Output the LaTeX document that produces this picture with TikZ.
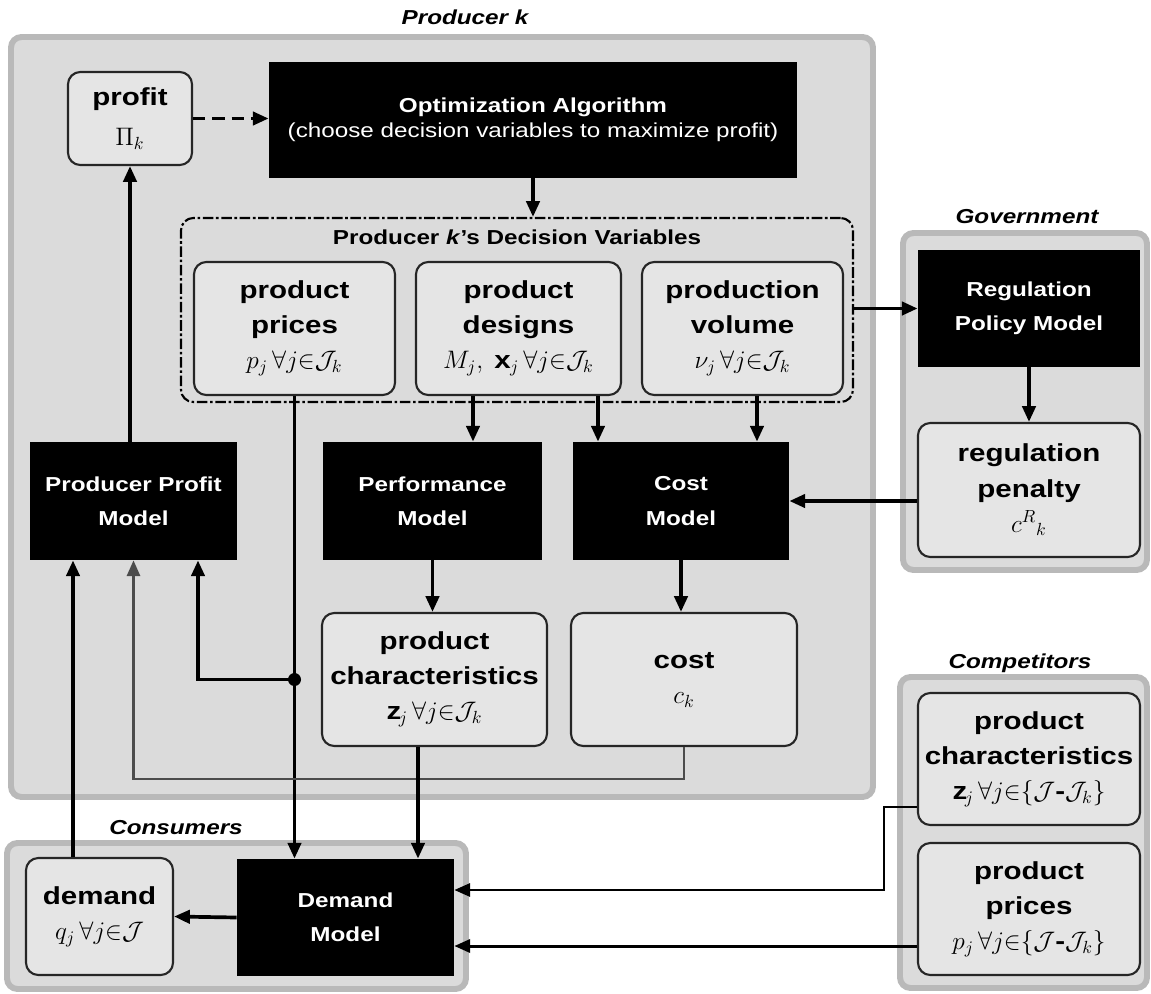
\documentclass[tikz,border=0pt]{standalone}
\usepackage{amsmath, amssymb}
\usepackage{fontspec}
\setmainfont{Liberation Sans}[FakeStretch=1.2]
\usetikzlibrary{arrows.meta, positioning, calc}

\begin{document}
\begin{tikzpicture}[box/.style={draw=black!85, line width=1.2pt, rounded corners=7pt, fill=gray!20, align=center, inner sep=1pt, font=\fontsize{14}{20}\selectfont\bfseries},
  model/.style={fill=black, text=white, align=center, inner sep=1pt, font=\fontsize{11.5}{19.5}\selectfont\bfseries},
  group/.style={draw=gray!55, line width=3.4pt, fill=gray!28, rounded corners=6pt, inner sep=0pt},
  head/.style={font=\fontsize{11.5}{14}\selectfont\bfseries\itshape}, ar/.style={-{Triangle[length=9pt, width=7.5pt]}, line width=2.1pt}]
\useasboundingbox (0,0) rectangle (23.02,-19.88);
% containers
\node[group, minimum width=17.24cm, minimum height=15.20cm] (prod) at (8.84,-8.34) {};
\node[group, minimum width=4.88cm, minimum height=6.74cm] (gov) at (20.50,-8.03) {};
\node[group, minimum width=4.94cm, minimum height=6.22cm] (comp) at (20.47,-16.65) {};
\node[group, minimum width=9.18cm, minimum height=2.92cm] (cons) at (4.73,-18.32) {};
\node[head] (tprod) at (9.30,-0.34) {Producer k};
\node[head] (tgov) at (20.54,-4.34) {Government};
\node[head] (tcomp) at (20.40,-13.26) {Competitors};
\node[head] (tcons) at (3.52,-16.56) {Consumers};
% producer k
\node[box, minimum width=2.48cm, minimum height=1.86cm] (profit) at (2.60,-2.37) {profit\\[3pt]$\Pi_{k}$};
\node[model, minimum width=10.56cm, minimum height=2.32cm, font=\fontsize{11.5}{14.5}\selectfont] (opt) at (10.66,-2.40) {\textbf{Optimization Algorithm}\\(choose decision variables to maximize profit)};
\node[draw, line width=1.2pt, rounded corners=7pt, dash pattern=on 6pt off 1.5pt on 1.5pt off 1.5pt, minimum width=13.44cm, minimum height=3.68cm] (dv) at (10.34,-6.20) {};
\node[font=\fontsize{11.5}{14}\selectfont\bfseries] (dvt) at (10.34,-4.74) {Producer \textit{k}'s Decision Variables};
\node[box, minimum width=4.02cm, minimum height=2.66cm] (prices) at (5.89,-6.57) {product\\prices\\$p_j\,\forall j{\in}\mathcal{J}_k$};
\node[box, minimum width=4.10cm, minimum height=2.66cm] (designs) at (10.37,-6.57) {product\\designs\\$M_j,\;\mathbf{x}_{\mkern2mu j}\,\forall j{\in}\mathcal{J}_k$};
\node[box, minimum width=4.02cm, minimum height=2.66cm] (volume) at (14.85,-6.57) {production\\volume\\$\nu_j\,\forall j{\in}\mathcal{J}_k$};
\node[model, minimum width=4.14cm, minimum height=2.36cm] (ppm) at (2.67,-10.02) {Producer Profit\\Model};
\node[model, minimum width=4.38cm, minimum height=2.36cm] (perf) at (8.65,-10.02) {Performance\\Model};
\node[model, minimum width=4.32cm, minimum height=2.36cm] (costm) at (13.62,-10.02) {Cost\\Model};
\node[box, minimum width=4.50cm, minimum height=2.66cm] (pchar) at (8.69,-13.59) {product\\characteristics\\$\mathbf{z}_j\,\forall j{\in}\mathcal{J}_k$};
\node[box, minimum width=4.52cm, minimum height=2.66cm] (cost) at (13.68,-13.59) {cost\\$c_k$};
% government
\node[model, minimum width=4.44cm, minimum height=2.34cm] (regpol) at (20.58,-6.17) {Regulation\\Policy Model};
\node[box, minimum width=4.44cm, minimum height=2.68cm] (pen) at (20.58,-9.80) {regulation\\penalty\\$c^{R}{}_{k}$};
% competitors
\node[box, minimum width=4.44cm, minimum height=2.64cm] (cchar) at (20.58,-15.18) {product\\characteristics\\$\mathbf{z}_j\,\forall j{\in}\{\mathcal{J}\mbox{-}\mathcal{J}_k\}$};
\node[box, minimum width=4.44cm, minimum height=2.64cm] (cprices) at (20.58,-18.18) {product\\prices\\$p_j\,\forall j{\in}\{\mathcal{J}\mbox{-}\mathcal{J}_k\}$};
% consumers
\node[box, minimum width=2.94cm, minimum height=2.34cm] (demand) at (1.99,-18.33) {demand\\$q_j\,\forall j{\in}\mathcal{J}$};
\node[model, minimum width=4.34cm, minimum height=2.34cm] (dmodel) at (6.91,-18.35) {Demand\\Model};
% connectors
\draw[ar, dash pattern=on 7pt off 4pt] (profit.east) -- (profit.east -| opt.west);
\draw[ar] (opt.south) -- (opt.south |- dv.north);
\draw[ar] (dv.east |- regpol.west) -- (regpol.west);
\draw[ar] (regpol.south) -- (pen.north);
\draw[ar] (pen.west |- costm.east) -- (costm.east);
\draw[ar] ([xshift=-0.91cm]designs.south) -- ([xshift=-0.91cm]designs.south |- perf.north);
\draw[ar] ([xshift=1.59cm]designs.south) -- ([xshift=1.59cm]designs.south |- costm.north);
\draw[ar] ([xshift=0.29cm]volume.south) -- ([xshift=0.29cm]volume.south |- costm.north);
\draw[ar] (perf.south) -- (perf.south |- pchar.north);
\draw[ar] (costm.south) -- (costm.south |- cost.north);
\draw[ar] (ppm.north -| profit.south) -- (profit.south);
\coordinate (jn) at (prices.south |- pchar.west);
\draw[ar] (prices.south) -- (prices.south |- dmodel.north);
\fill (jn) circle (0.13);
\draw[ar] (jn) -| ([xshift=1.29cm]ppm.south);
\draw[ar, line width=1.4pt, draw=black!70] (cost.south) -- ++(0,-0.64) -| (ppm.south);
\draw[ar] ([xshift=-0.53cm]demand.north) -- ([xshift=-0.53cm]demand.north |- ppm.south);
\draw[ar] ([xshift=-0.33cm]pchar.south) -- ([xshift=-0.33cm]pchar.south |- dmodel.north);
\draw[ar] (dmodel.west) -- (demand.east);
\draw[ar, line width=1.5pt] ([yshift=-0.96cm]cchar.west) -- ++(-0.66,0) |- ([yshift=0.55cm]dmodel.east);
\draw[ar, line width=1.7pt] ([yshift=-0.57cm]dmodel.east -| cprices.west) -- ([yshift=-0.57cm]dmodel.east);
\end{tikzpicture}
\end{document}
